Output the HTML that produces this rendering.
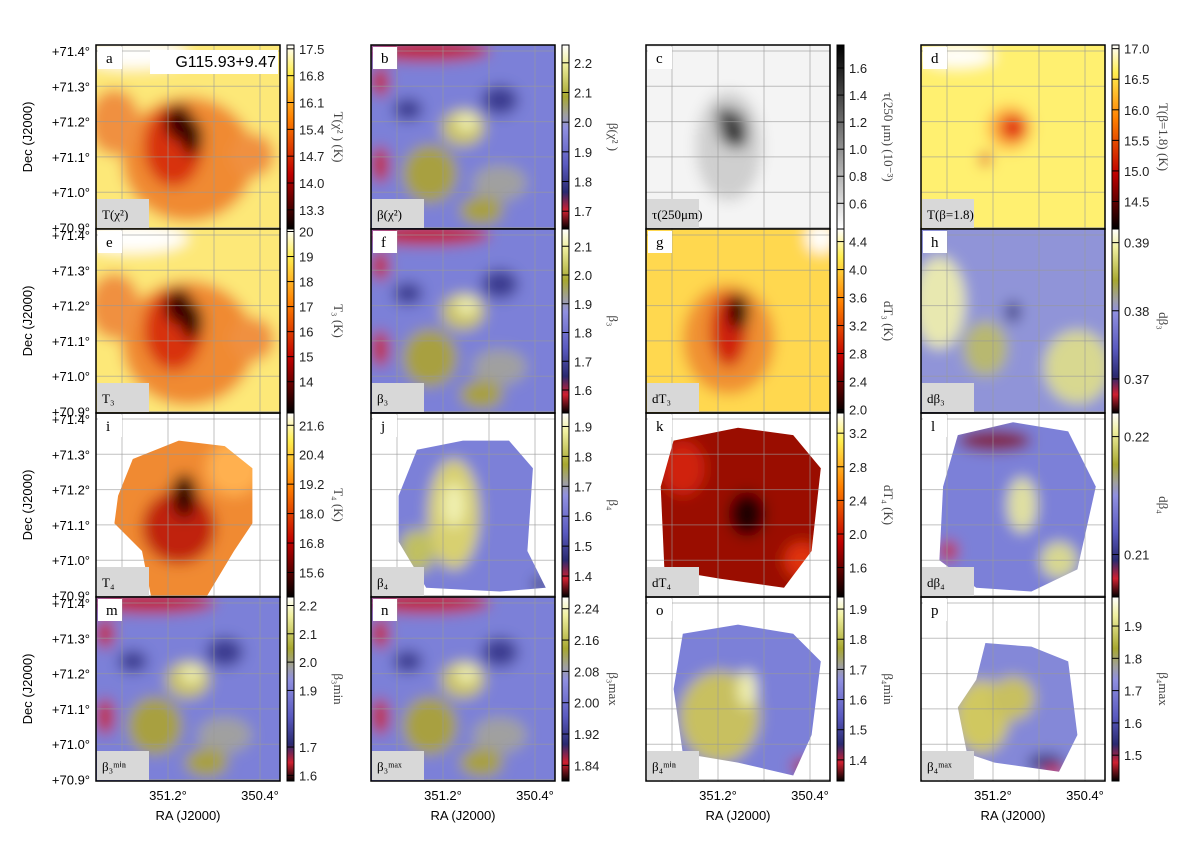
<!DOCTYPE html>
<html><head><meta charset="utf-8"><style>
html,body{margin:0;padding:0;background:#fff;}
svg{display:block;font-family:"Liberation Sans",sans-serif;}
</style></head><body>
<svg id="fig" width="1200" height="842" viewBox="0 0 1200 842" xmlns="http://www.w3.org/2000/svg">
<defs>
<filter id="blur" x="-20%" y="-20%" width="140%" height="140%"><feGaussianBlur stdDeviation="7"/></filter>
<linearGradient id="g-hot" x1="0" y1="1" x2="0" y2="0">
<stop offset="0" stop-color="#000"/><stop offset="0.3" stop-color="#c00000"/><stop offset="0.6" stop-color="#ff8000"/><stop offset="0.85" stop-color="#ffee50"/><stop offset="1" stop-color="#fff"/></linearGradient>
<linearGradient id="g-beta" x1="0" y1="1" x2="0" y2="0">
<stop offset="0" stop-color="#000"/><stop offset="0.1" stop-color="#d02030"/><stop offset="0.2" stop-color="#2a2a70"/><stop offset="0.35" stop-color="#5a5ac0"/><stop offset="0.55" stop-color="#9090e0"/><stop offset="0.62" stop-color="#a0a0a0"/><stop offset="0.72" stop-color="#a8a830"/><stop offset="0.9" stop-color="#f0f0a0"/><stop offset="1" stop-color="#fff"/></linearGradient>
<linearGradient id="g-gray" x1="0" y1="1" x2="0" y2="0">
<stop offset="0" stop-color="#fff"/><stop offset="1" stop-color="#000"/></linearGradient>
</defs>
</svg>
<script>
// colorbar tick labels and domains
const ticksA=["13.3","14.0","14.7","15.4","16.1","16.8","17.5"], domA=[12.8,17.6];
const ticksB=["1.7","1.8","1.9","2.0","2.1","2.2"], domB=[1.64,2.26];
const ticksC=["0.6","0.8","1.0","1.2","1.4","1.6"], domC=[0.41,1.77];
const ticksD=["14.5","15.0","15.5","16.0","16.5","17.0"], domD=[14.05,17.06];
const ticksE=["14","15","16","17","18","19","20"], domE=[12.75,20.1];
const ticksF=["1.6","1.7","1.8","1.9","2.0","2.1"], domF=[1.52,2.16];
const ticksG=["2.0","2.4","2.8","3.2","3.6","4.0","4.4"], domG=[1.95,4.58];
const ticksH=["0.37","0.38","0.39"], domH=[0.365,0.392];
const ticksI=["15.6","16.8","18.0","19.2","20.4","21.6"], domI=[14.6,22.1];
const ticksJ=["1.4","1.5","1.6","1.7","1.8","1.9"], domJ=[1.33,1.945];
const ticksK=["1.6","2.0","2.4","2.8","3.2"], domK=[1.25,3.44];
const ticksL=["0.21","0.22"], domL=[0.2064,0.222];
const ticksM=["1.6","1.7","1.9","2.0","2.1","2.2"], domM=[1.58,2.23];
const ticksN=["1.84","1.92","2.00","2.08","2.16","2.24"], domN=[1.8,2.27];
const ticksO=["1.4","1.5","1.6","1.7","1.8","1.9"], domO=[1.33,1.94];
const ticksP=["1.5","1.6","1.7","1.8","1.9"], domP=[1.42,1.99];
// axis ticks
const decTicks=["+71.4°","+71.3°","+71.2°","+71.1°","+71.0°","+70.9°"];
const decVals=[71.4,71.3,71.2,71.1,71.0,70.9];
const raTicks=["351.2°","350.4°"];
const raVals=[351.2,350.4];

const NS="http://www.w3.org/2000/svg";
const svg=document.getElementById('fig');
function mk(tag,attrs,parent){const e=document.createElementNS(NS,tag);for(const k in attrs)e.setAttribute(k,attrs[k]);(parent||svg).appendChild(e);return e;}
const colL=[96,371,646,921], rowT=[45,229,413,597], W=184, H=184;
const decY=v=>51+(71.4-v)*353;
const raX=v=>72+(351.2-v)*115;

const hotBlobsA=[["#fde878",.5,.5,.8,.8],["#fff",.2,.05,.3,.08],["#f08a30",.5,.62,.36,.34],["#f09040",.1,.42,.14,.18],["#f09040",.85,.6,.12,.12],["#d83010",.42,.55,.16,.22],["#400000",.45,.42,.08,.1],["#300000",.52,.5,.06,.1]];
const betaBlobs=[["#7c80d8",.5,.5,.8,.8],["#c02030",.3,.03,.35,.06],["#c02030",.05,.2,.05,.08],["#c02030",.05,.65,.05,.1],["#3a3a90",.7,.3,.1,.08],["#3a3a90",.2,.35,.08,.06],["#c8c060",.5,.45,.12,.1],["#f0f0b0",.52,.42,.06,.05],["#a8a040",.32,.7,.15,.16],["#a0a0a0",.7,.75,.15,.1],["#a8a040",.6,.9,.12,.08]];
const panels=[
 {id:"a",cb:"g-hot",t:ticksA,d:domA,lab:"T(χ²)",cl:"T(χ² ) (K)",b:hotBlobsA},
 {id:"b",cb:"g-beta",t:ticksB,d:domB,lab:"β(χ²)",cl:"β(χ² )",b:betaBlobs},
 {id:"c",cb:"g-gray",t:ticksC,d:domC,lab:"τ(250μm)",cl:"τ(250 μm) (10⁻³)",b:[["#f4f4f4",.5,.5,.8,.8],["#cfcfcf",.45,.55,.18,.3],["#505050",.47,.45,.08,.1],["#202020",.5,.5,.05,.06],["#303030",.42,.38,.04,.04]]},
 {id:"d",cb:"g-hot",t:ticksD,d:domD,lab:"T(β=1.8)",cl:"T(β=1.8) (K)",b:[["#fff070",.5,.5,.8,.8],["#fff",.2,.06,.2,.06],["#ffb040",.48,.45,.12,.12],["#e02010",.5,.45,.07,.07],["#e03020",.35,.62,.03,.04]]},
 {id:"e",cb:"g-hot",t:ticksE,d:domE,lab:"T₃",cl:"T₃ (K)",b:hotBlobsA},
 {id:"f",cb:"g-beta",t:ticksF,d:domF,lab:"β₃",cl:"β₃",b:betaBlobs},
 {id:"g",cb:"g-hot",t:ticksG,d:domG,lab:"dT₃",cl:"dT₃ (K)",b:[["#ffd850",.5,.5,.8,.8],["#fff",.95,.05,.08,.08],["#f09030",.45,.6,.25,.3],["#d02010",.45,.55,.1,.2],["#200000",.5,.45,.06,.1]]},
 {id:"h",cb:"g-beta",t:ticksH,d:domH,lab:"dβ₃",cl:"dβ₃",b:[["#9094d8",.5,.5,.8,.8],["#e8e8b0",.1,.4,.14,.25],["#d8d890",.85,.75,.18,.2],["#b8b870",.35,.65,.12,.15],["#3a3a80",.5,.45,.04,.06]]},
 {id:"i",cb:"g-hot",t:ticksI,d:domI,lab:"T₄",cl:"T₄ (K)",shape:[[.2,.25],[.45,.15],[.7,.18],[.85,.3],[.85,.6],[.75,.75],[.6,1],[.3,1],[.25,.75],[.1,.6],[.12,.45]],b:[["#f08a30",.5,.5,.8,.8],["#ffb050",.75,.3,.15,.15],["#c02010",.45,.62,.2,.2],["#300000",.48,.45,.07,.12]]},
 {id:"j",cb:"g-beta",t:ticksJ,d:domJ,lab:"β₄",cl:"β₄",shape:[[.25,.2],[.5,.15],[.75,.15],[.88,.3],[.85,.75],[.95,.95],[.7,.97],[.3,.95],[.15,.7],[.15,.45]],b:[["#7c80d8",.5,.5,.8,.8],["#d8d070",.45,.55,.14,.3],["#f0f0b0",.45,.5,.06,.12],["#c0c060",.25,.75,.1,.12],["#000",.92,.93,.04,.03]]},
 {id:"k",cb:"g-hot",t:ticksK,d:domK,lab:"dT₄",cl:"dT₄ (K)",shape:[[.15,.15],[.5,.08],[.8,.12],[.95,.3],[.9,.75],[.75,.95],[.4,.9],[.1,.85],[.08,.4]],b:[["#9a0800",.5,.5,.8,.8],["#d02010",.2,.3,.12,.15],["#e03010",.85,.8,.1,.1],["#200000",.55,.55,.1,.12]]},
 {id:"l",cb:"g-beta",t:ticksL,d:domL,lab:"dβ₄",cl:"dβ₄",shape:[[.2,.12],[.5,.05],[.8,.1],[.95,.4],[.85,.85],[.6,.97],[.3,.95],[.1,.8],[.12,.4]],b:[["#7c80d8",.5,.5,.8,.8],["#802040",.4,.15,.2,.06],["#e0e0a0",.55,.5,.08,.15],["#d8d890",.75,.8,.1,.1],["#c02030",.15,.75,.05,.06]]},
 {id:"m",cb:"g-beta",t:ticksM,d:domM,lab:"β₃ᵐⁱⁿ",cl:"β₃min",b:betaBlobs},
 {id:"n",cb:"g-beta",t:ticksN,d:domN,lab:"β₃ᵐᵃˣ",cl:"β₃max",b:betaBlobs},
 {id:"o",cb:"g-beta",t:ticksO,d:domO,lab:"β₄ᵐⁱⁿ",cl:"β₄min",shape:[[.2,.2],[.5,.15],[.8,.2],[.95,.35],[.9,.75],[.8,.97],[.5,.9],[.2,.85],[.15,.5]],b:[["#7c80d8",.5,.5,.8,.8],["#c8c060",.4,.65,.22,.25],["#f0f0b0",.55,.5,.05,.1],["#c02030",.85,.92,.06,.04],["#000",.88,.95,.04,.03]]},
 {id:"p",cb:"g-beta",t:ticksP,d:domP,lab:"β₄ᵐᵃˣ",cl:"β₄max",shape:[[.35,.25],[.6,.27],[.8,.35],[.85,.75],[.75,.95],[.4,.9],[.25,.85],[.2,.6],[.3,.45]],b:[["#8488d8",.5,.5,.8,.8],["#d0c860",.33,.65,.15,.2],["#c8c060",.5,.55,.12,.12],["#3a3a80",.68,.9,.1,.05],["#e02030",.72,.95,.06,.03]]}
];
panels.forEach((p,i)=>{
 const L=colL[i%4], T=rowT[Math.floor(i/4)];
 const g=mk('g',{});
 
 
 const cid='clip-'+p.id;
 const cp=mk('clipPath',{id:cid},g);
 if(p.shape){mk('polygon',{points:p.shape.map(q=>(L+q[0]*W)+','+(T+q[1]*H)).join(' ')},cp);}
 else mk('rect',{x:L,y:T,width:W,height:H},cp);
 const outer=mk('g',{'clip-path':'url(#'+cid+')'},g);
 const mg=mk('g',{filter:'url(#blur)'},outer);
 p.b.forEach(b=>mk('ellipse',{cx:L+b[1]*W,cy:T+b[2]*H,rx:b[3]*W,ry:b[4]*H,fill:b[0]},mg));
 decVals.forEach(v=>mk('line',{x1:L,x2:L+W,y1:T-45+decY(v),y2:T-45+decY(v),stroke:'#999','stroke-width':1,opacity:.6},g));
 [26,72,118,164].forEach(dx=>mk('line',{x1:L+dx,x2:L+dx,y1:T,y2:T+H,stroke:'#999','stroke-width':1,opacity:.6},g));
 mk('rect',{x:L,y:T,width:W,height:H,fill:'none',stroke:'#000','stroke-width':1.5},g);
 mk('rect',{x:L+2,y:T+2,width:24,height:22,fill:'#fff'},g);
 const lt=mk('text',{x:L+10,y:T+18,'font-size':15,'font-family':'Liberation Serif,serif'},g);lt.textContent=p.id;
 mk('rect',{x:L+1,y:T+H-30,width:52,height:29,fill:'#d8d8d8'},g);
 const bl=mk('text',{x:L+6,y:T+H-10,'font-size':13,'font-family':'Liberation Serif,serif'},g);bl.textContent=p.lab;
 const cx=L+191;
 const cb=mk('rect',{x:cx,y:T,width:7,height:H,fill:'url(#'+p.cb+')',stroke:'#000','stroke-width':1});
 
 
 p.t.forEach(t=>{const y=T+H-(parseFloat(t)-p.d[0])/(p.d[1]-p.d[0])*H;
  mk('line',{x1:cx,x2:cx+7,y1:y,y2:y,stroke:'#000','stroke-width':1});
  const tt=mk('text',{x:cx+12,y:y+5,'font-size':13,fill:'#222'});tt.textContent=t;});
 const ct=mk('text',{x:0,y:0,'font-size':13,'font-family':'Liberation Serif,serif',fill:'#444','text-anchor':'middle',transform:`translate(${L+238},${T+H/2}) rotate(90)`});ct.textContent=p.cl;
});
mk('rect',{x:150,y:50,width:128,height:24,fill:'#fff'});
const gt=mk('text',{x:276,y:67,'font-size':16,'text-anchor':'end'});gt.textContent="G115.93+9.47";

rowT.forEach(T=>{
 decTicks.forEach((t,k)=>{const y=T-45+decY(decVals[k]);const tx=mk('text',{x:90,y:y+5,'font-size':13,'text-anchor':'end'});tx.textContent=t;});
 const dl=mk('text',{x:0,y:0,'font-size':13,'text-anchor':'middle',transform:`translate(32,${T+92}) rotate(-90)`});dl.textContent="Dec (J2000)";
 
});
colL.forEach(L=>{
 raTicks.forEach((t,k)=>{const tx=mk('text',{x:L+raX(raVals[k]),y:800,'font-size':13,'text-anchor':'middle'});tx.textContent=t;});
 const xl=mk('text',{x:L+92,y:820,'font-size':13,'text-anchor':'middle'});xl.textContent="RA (J2000)";
 
});
</script>
</body></html>
